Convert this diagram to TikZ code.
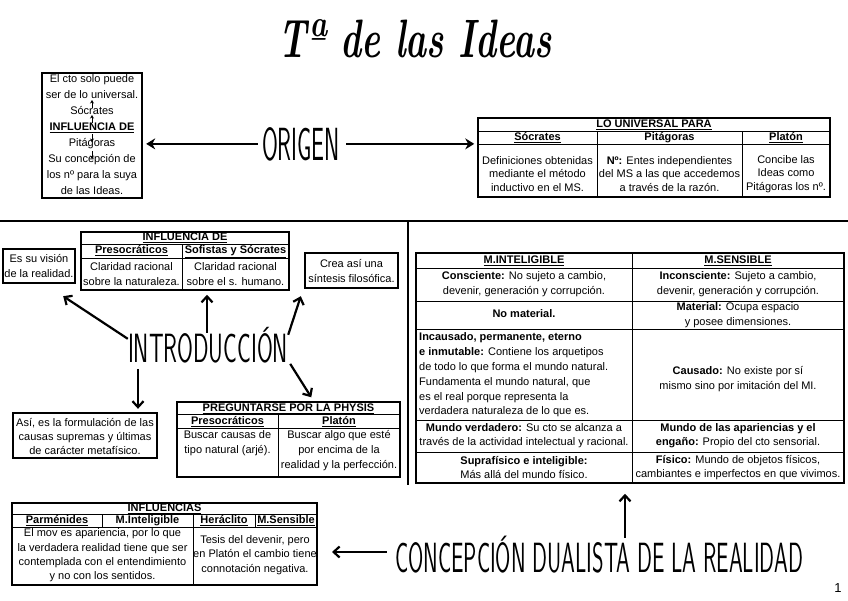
\documentclass[tikz,border=0pt]{standalone}
\usepackage{fontspec}
\usepackage{graphicx}
\setmainfont{Liberation Sans}
\newfontfamily\titlefont{Latin Modern Roman}
\newfontfamily\thinfont{lmsans17-regular.otf}
\usetikzlibrary{arrows.meta}
\newcommand\hdr[1]{\textbf{\underline{#1}}}
\newcommand\amaticcaps[3]{\resizebox{#1}{#2}{\thinfont\fontsize{40}{40}\selectfont #3}}
\begin{document}
\begin{tikzpicture}[x=1pt,y=-1pt,
  txt/.style={inner sep=0pt, align=center, font=\fontsize{11}{15}\selectfont},
  txtc/.style={inner sep=0pt, align=center, font=\fontsize{11}{13.7}\selectfont},
  one/.style={text height=8pt, text depth=2.5pt},
  thickbox/.style={draw, line width=2.4pt, inner sep=0pt},
  tbox/.style={draw, line width=1.5pt, inner sep=0pt},
  tline/.style={line width=0.9pt},
  frame/.style={line width=2.6pt},
  bigarrow/.style={line width=2.6pt, -{Stealth[length=9pt,width=11pt]}},
  barrow/.style={line width=2.2pt, -{Straight Barb[length=6pt,width=11pt]}},
  smallarrow/.style={line width=0.8pt, -{Stealth[length=3.5pt,width=4pt]}},
]
\useasboundingbox (0,0) rectangle (848,600);

% title
\node[inner sep=0pt] (title) at (415,39) {\resizebox{274pt}{38pt}{\titlefont\bfseries\itshape Tª de las Ideas}};

% frame lines
\draw[frame] (0,221) -- (848,221);
\draw[frame] (408,221) -- (408,485);

% ---------- ORIGEN ----------
\node[thickbox, minimum width=100pt, minimum height=125pt] (ob) at (92,135.5) {};
\node[txt, font=\fontsize{11}{16}\selectfont] (obt) at (92,135) {El cto solo puede\\ser de lo universal.\\Sócrates\\\hdr{INFLUENCIA DE}\\Pitágoras\\Su concepción de\\los nº para la suya\\de las Ideas.};
\coordinate (a1s) at (92,108); \coordinate (a1e) at (92,100);
\coordinate (a2s) at (92,123); \coordinate (a2e) at (92,115);
\coordinate (a3s) at (92,134); \coordinate (a3e) at (92,142);
\coordinate (a4s) at (92,151); \coordinate (a4e) at (92,159);
\draw[smallarrow] (a1s) -- (a1e);
\draw[smallarrow] (a2s) -- (a2e);
\draw[smallarrow] (a3s) -- (a3e);
\draw[smallarrow] (a4s) -- (a4e);

\node[inner sep=0pt, anchor=base] (origen) at (301,160) {\amaticcaps{78pt}{33pt}{ORIGEN}};

\node[tbox, minimum width=352pt, minimum height=79pt] (lu) at (654,157.5) {};
\draw[tline] (478,131) -- (830,131);
\draw[tline] (478,144) -- (830,144);
\draw[tline] (597,131) -- (597,197);
\draw[tline] (742,131) -- (742,197);
\node[txtc, one] (luT) at (654,125) {\hdr{LO UNIVERSAL PARA}};
\node[txtc, one] (luH1) at (537.5,138) {\hdr{Sócrates}};
\node[txtc, one] (luH2) at (669.5,138) {\hdr{Pitágoras}};
\node[txtc, one] (luH3) at (786,138) {\hdr{Platón}};
\node[txtc] (luB1) at (537.5,174) {Definiciones obtenidas\\mediante el método\\inductivo en el MS.};
\node[txtc] (luB2) at (669.5,174) {\textbf{Nº:} Entes independientes\\del MS a las que accedemos\\a través de la razón.};
\node[txtc] (luB3) at (786,174) {Concibe las\\Ideas como\\Pitágoras los nº.};

\draw[bigarrow, shorten >=3pt] ([xshift=-4pt]origen.west) -- (origen.west -| ob.east);
\draw[bigarrow, shorten >=3pt] ([xshift=6pt]origen.east) -- (origen.east -| lu.west);

% ---------- INTRODUCCION ----------
\node[tbox, minimum width=208pt, minimum height=58pt] (inf) at (185,261) {};
\draw[tline] (81,244) -- (289,244);
\draw[tline] (81,258) -- (289,258);
\draw[tline] (182,244) -- (182,290);
\node[txt, one] (infT) at (185,238) {\hdr{INFLUENCIA DE}};
\node[txt, one] (infH1) at (131.5,251) {\hdr{Presocráticos}};
\node[txt, one] (infH2) at (235.5,251) {\hdr{Sofistas y Sócrates}};
\node[txt] (infB1) at (131.5,274) {Claridad racional\\sobre la naturaleza.};
\node[txt] (infB2) at (235.5,274) {Claridad racional\\sobre el s. humano.};

\node[thickbox, minimum width=72pt, minimum height=34pt] (esv) at (39,266) {};
\node[txt] (esvt) at (39,266) {Es su visión\\de la realidad.};

\node[thickbox, minimum width=93pt, minimum height=35pt] (crea) at (351.5,270.5) {};
\node[txt] (creat) at (351.5,271) {Crea así una\\síntesis filosófica.};

\node[inner sep=0pt, anchor=base] (intro) at (208,362) {\amaticcaps{160pt}{29pt}{INTRODUCCI\smash{Ó}N}};

\node[thickbox, minimum width=144pt, minimum height=45pt] (asi) at (85,435.5) {};
\node[txt, font=\fontsize{11}{14}\selectfont] (asit) at (85,436) {Así, es la formulación de las\\causas supremas y últimas\\de carácter metafísico.};

\node[tbox, minimum width=223pt, minimum height=75pt] (pp) at (288.5,439.5) {};
\draw[tline] (177,414) -- (400,414);
\draw[tline] (177,428) -- (400,428);
\draw[tline] (278,414) -- (278,477);
\node[txt, one] (ppT) at (288.5,408.5) {\hdr{PREGUNTARSE POR LA PHYSIS}};
\node[txt, one] (ppH1) at (227.5,421.5) {\hdr{Presocráticos}};
\node[txt, one] (ppH2) at (339,421.5) {\hdr{Platón}};
\node[txt, anchor=north] (ppB1) at (227.5,430) {Buscar causas de\\tipo natural (arjé).};
\node[txt, anchor=north] (ppB2) at (339,430) {Buscar algo que esté\\por encima de la\\realidad y la perfección.};

\draw[barrow] ([yshift=-6pt]intro.north west) -- ([xshift=-13pt,yshift=-12pt]esv.south east);
\draw[barrow, shorten >=4pt] ([xshift=-1pt]intro.north) -- ([xshift=-1pt]intro.north |- inf.south);
\draw[barrow] ([yshift=-2pt]intro.north east) -- ([xshift=-3pt,yshift=-7pt]crea.south west);
\draw[barrow] ([xshift=-70pt,yshift=-6pt]intro.south) -- ([xshift=53pt,yshift=3pt]asi.north);
\draw[barrow] ([xshift=2pt,yshift=-1pt]intro.south east) -- ([xshift=135pt,yshift=4pt]pp.north west);

% ---------- M. INTELIGIBLE / M. SENSIBLE ----------
\node[tbox, minimum width=428pt, minimum height=230pt] (mi) at (630,368) {};
\draw[tline] (416,268) -- (844,268);
\draw[tline] (416,301) -- (844,301);
\draw[tline] (416,329) -- (844,329);
\draw[tline] (416,420) -- (844,420);
\draw[tline] (416,452) -- (844,452);
\draw[tline] (632,253) -- (632,483);
\node[txt, one] (miH1) at (524,260.5) {\hdr{M.INTELIGIBLE}};
\node[txt, one] (miH2) at (738,260.5) {\hdr{M.SENSIBLE}};
\node[txt] (mi11) at (524,284.5) {\textbf{Consciente:} No sujeto a cambio,\\devenir, generación y corrupción.};
\node[txt] (mi12) at (738,284.5) {\textbf{Inconsciente:} Sujeto a cambio,\\devenir, generación y corrupción.};
\node[txt, one] (mi21) at (524,315) {\textbf{No material.}};
\node[txt] (mi22) at (738,315) {\textbf{Material:} Ocupa espacio\\y posee dimensiones.};
\node[txt, align=left, anchor=west, font=\fontsize{11}{14.8}\selectfont] (mi31) at (419,375) {\textbf{Incausado, permanente, eterno}\\\textbf{e inmutable:} Contiene los arquetipos\\de todo lo que forma el mundo natural.\\Fundamenta el mundo natural, que\\es el real porque representa la\\verdadera naturaleza de lo que es.};
\node[txt] (mi32) at (738,379) {\textbf{Causado:} No existe por sí\\mismo sino por imitación del MI.};
\node[txt, font=\fontsize{11}{14}\selectfont] (mi41) at (524,436) {\textbf{Mundo verdadero:} Su cto se alcanza a\\través de la actividad intelectual y racional.};
\node[txt, font=\fontsize{11}{14}\selectfont] (mi42) at (738,436) {\textbf{Mundo de las apariencias y el}\\\textbf{engaño:} Propio del cto sensorial.};
\node[txt, font=\fontsize{11}{14.5}\selectfont] (mi51) at (524,467.5) {\textbf{Suprafísico e inteligible:}\\Más allá del mundo físico.};
\node[txt, font=\fontsize{11}{14.5}\selectfont] (mi52) at (738,467.5) {\textbf{Físico:} Mundo de objetos físicos,\\cambiantes e imperfectos en que vivimos.};

% ---------- CONCEPCION DUALISTA ----------
\node[tbox, minimum width=305pt, minimum height=82pt] (infl) at (164.5,544) {};
\draw[tline] (12,514) -- (317,514);
\draw[tline] (12,527) -- (317,527);
\draw[tline] (102,514) -- (102,527);
\draw[tline] (193,514) -- (193,585);
\draw[tline] (255,514) -- (255,527);
\node[txt, one] (inflT) at (164.5,509) {\hdr{INFLUENCIAS}};
\node[txt, one] (inflH1) at (57,521) {\hdr{Parménides}};
\node[txt, one] (inflH2) at (147.5,521) {\hdr{M.Inteligible}};
\node[txt, one] (inflH3) at (224,521) {\hdr{Heráclito}};
\node[txt, one] (inflH4) at (286,521) {\hdr{M.Sensible}};
\node[txt, font=\fontsize{11}{14.3}\selectfont] (inflB1) at (102.5,555.5) {El mov es apariencia, por lo que\\la verdadera realidad tiene que ser\\contemplada con el entendimiento\\y no con los sentidos.};
\node[txt, font=\fontsize{11}{14.3}\selectfont] (inflB2) at (255,555) {Tesis del devenir, pero\\en Platón el cambio tiene\\connotación negativa.};

\node[inner sep=0pt, anchor=base] (cdr) at (599,572) {\amaticcaps{408pt}{30pt}{CONCEPCI\smash{Ó}N DUALISTA DE LA REALIDAD}};
\coordinate (cl) at (332,552);
\draw[barrow] ([xshift=-8pt]cdr.north west |- cl) -- (cl);
\draw[barrow] ([xshift=26pt,yshift=4pt]cdr.north) -- ([xshift=-5pt,yshift=-10pt]mi.south);

\node[inner sep=0pt, font=\fontsize{13}{13}\selectfont] (pg) at (838,588) {1};
\end{tikzpicture}
\end{document}
